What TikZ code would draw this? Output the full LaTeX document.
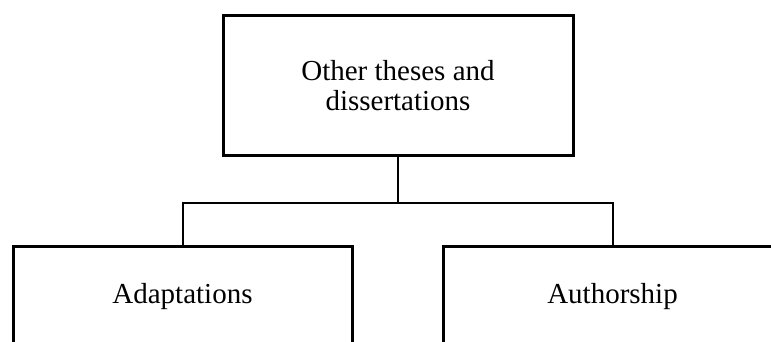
\documentclass[tikz,border=0pt]{standalone}
\usepackage{fontspec}
\setmainfont{Liberation Serif}
\usetikzlibrary{positioning}

\tikzset{
  topic/.style={draw, line width=3pt, align=center, inner sep=0pt,
    font=\fontsize{29}{29.5}\selectfont},
  link/.style={line width=2pt}
}

\begin{document}
\begin{tikzpicture}[x=1pt, y=-1pt]
\useasboundingbox (0,0) rectangle (771,342);
\node[topic, minimum width=350pt, minimum height=140pt] (theses) at (398,85.7) {Other theses and\\dissertations};
\node[topic, minimum width=339pt, minimum height=102pt] (adapt) at (182.5,297) {Adaptations};
\node[topic, minimum width=339pt, minimum height=102pt] (author) at (612.5,297) {Authorship};
\draw[link] (theses.south) -- ++(0,45.3) coordinate (fork) -| (adapt.north);
\draw[link] (fork) -| (author.north);
\end{tikzpicture}
\end{document}
